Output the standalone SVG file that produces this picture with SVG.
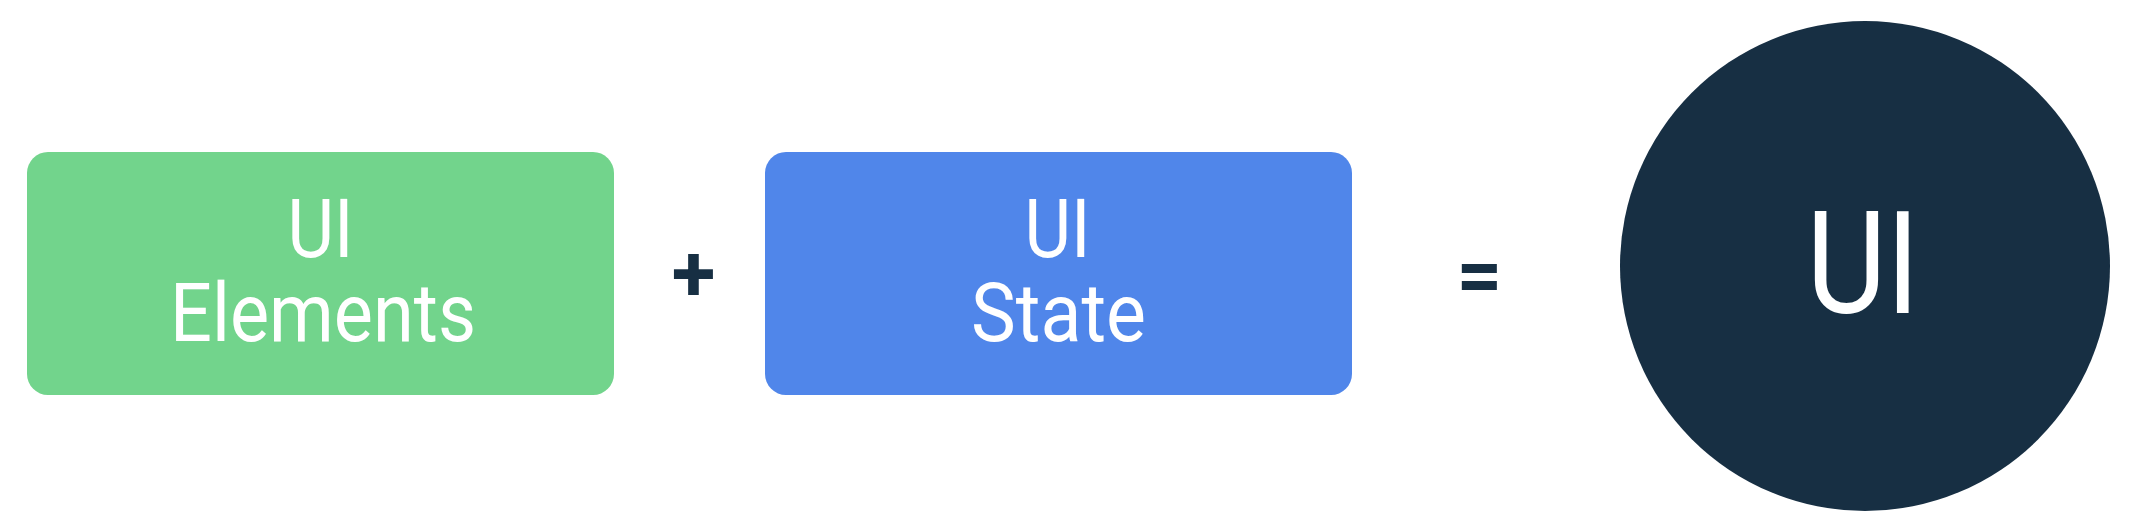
<svg xmlns="http://www.w3.org/2000/svg" width="2131" height="531" viewBox="0 0 2131 531">
  <style>
    .lbl { font-family: Roboto, "Liberation Sans", sans-serif; fill: #ffffff; text-anchor: middle; }
    .box { font-size: 82px; }
    .big { font-size: 143px; }
    .op { font-family: Roboto, "Liberation Sans", sans-serif; font-weight: bold; font-size: 80px; fill: #172F43; text-anchor: middle; }
  </style>
  <rect width="2131" height="531" fill="#ffffff"/>
  <g id="ui-elements">
    <rect x="27" y="152" width="587" height="243" rx="21" ry="21" fill="#72D48C"/>
    <text class="lbl box" x="320.5" y="257" textLength="66" lengthAdjust="spacingAndGlyphs">UI</text>
    <text class="lbl box" x="323" y="341" textLength="306" lengthAdjust="spacingAndGlyphs">Elements</text>
  </g>
  <g id="ui-state">
    <rect x="765" y="152" width="587" height="243" rx="21" ry="21" fill="#5086EA"/>
    <text class="lbl box" x="1057.5" y="257" textLength="66" lengthAdjust="spacingAndGlyphs">UI</text>
    <text class="lbl box" x="1058.5" y="341" textLength="175" lengthAdjust="spacingAndGlyphs">State</text>
  </g>
  <g id="ui">
    <circle cx="1865" cy="266" r="245" fill="#172F43"/>
    <text class="lbl big" x="1863" y="313" textLength="113" lengthAdjust="spacingAndGlyphs">UI</text>
  </g>
  <g id="connectors">
    <text id="plus" class="op" x="693.5" y="301">+</text>
    <text id="equals" class="op" x="1479.5" y="302">=</text>
  </g>
</svg>
